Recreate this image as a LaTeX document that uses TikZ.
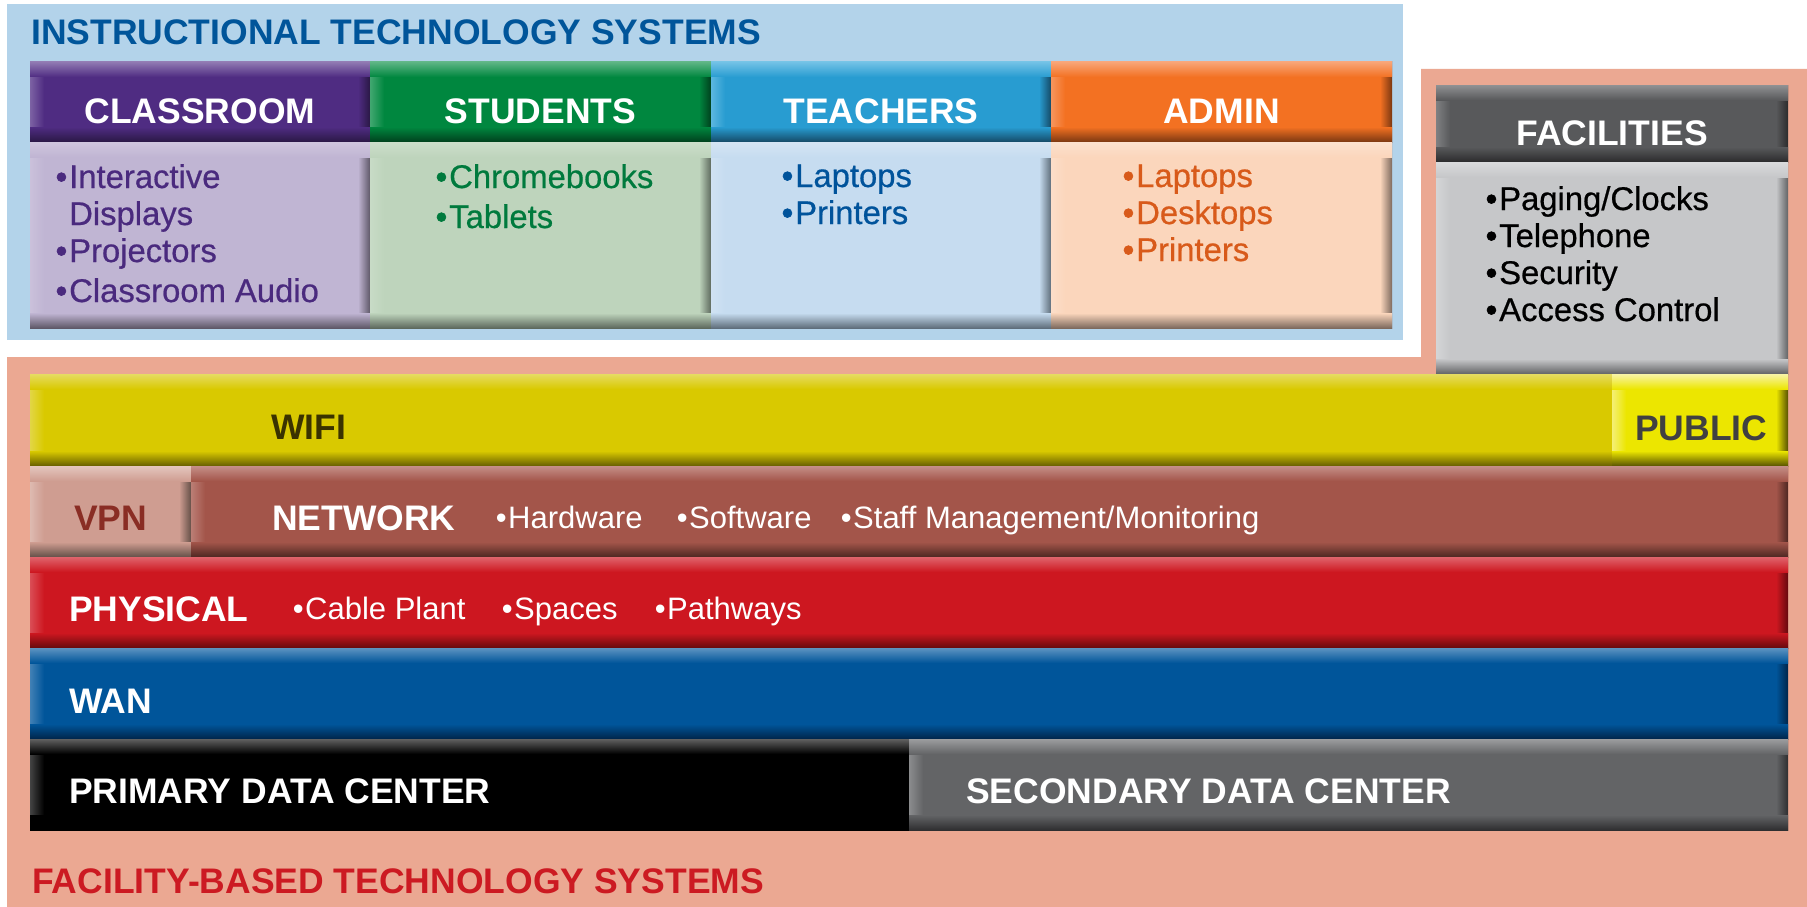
\documentclass[tikz,border=0pt]{standalone}
\usepackage{fontspec}
\setmainfont{Liberation Sans}
\newfontfamily\medfont[FakeBold=0.6]{Liberation Sans}
\newfontfamily\bulfont[FakeBold=2]{Liberation Sans}
\definecolor{bluebg}{HTML}{B3D3EA}
\definecolor{titleblue}{HTML}{00559A}
\definecolor{salmon}{HTML}{EBA892}
\definecolor{purple}{HTML}{4F2C82}\definecolor{purpleL}{HTML}{9079B2}\definecolor{purpleD}{HTML}{2A1845}
\definecolor{lav}{HTML}{C0B5D3}\definecolor{lavL}{HTML}{CFC6DE}\definecolor{lavD}{HTML}{5F5868}\definecolor{purpletxt}{HTML}{4A2A7E}
\definecolor{green}{HTML}{00873F}\definecolor{greenL}{HTML}{5DB585}\definecolor{greenD}{HTML}{00401D}
\definecolor{mint}{HTML}{BED4BC}\definecolor{mintL}{HTML}{CCDECB}\definecolor{mintD}{HTML}{5E6A5E}\definecolor{greentxt}{HTML}{007A3D}
\definecolor{tblue}{HTML}{289CD1}\definecolor{tblueL}{HTML}{72C2E6}\definecolor{tblueD}{HTML}{154A66}
\definecolor{pblue}{HTML}{C6DCF0}\definecolor{pblueL}{HTML}{D4E5F4}\definecolor{pblueD}{HTML}{5F6E7B}\definecolor{bluetxt}{HTML}{00539B}
\definecolor{orange}{HTML}{F37122}\definecolor{orangeL}{HTML}{F8A577}\definecolor{orangeD}{HTML}{7B3711}
\definecolor{peach}{HTML}{FBD6BC}\definecolor{peachL}{HTML}{FCE1CE}\definecolor{peachD}{HTML}{7E6A5E}\definecolor{orangetxt}{HTML}{D85A1A}
\definecolor{fgray}{HTML}{58595B}\definecolor{fgrayL}{HTML}{909193}\definecolor{fgrayD}{HTML}{2B2B2C}
\definecolor{lgray}{HTML}{C6C7C9}\definecolor{lgrayL}{HTML}{DADBDC}\definecolor{lgrayD}{HTML}{626365}
\definecolor{wifi}{HTML}{D9C900}\definecolor{wifiL}{HTML}{E6DC62}\definecolor{wifiD}{HTML}{665E00}\definecolor{wifitxt}{HTML}{3A3200}
\definecolor{pub}{HTML}{ECE600}\definecolor{pubL}{HTML}{F8F4A6}\definecolor{pubD}{HTML}{585200}\definecolor{pubtxt}{HTML}{404041}
\definecolor{net}{HTML}{A3554A}\definecolor{netL}{HTML}{C58F88}\definecolor{netD}{HTML}{4E2722}
\definecolor{vpn}{HTML}{CF9D91}\definecolor{vpnL}{HTML}{E4C6BE}\definecolor{vpnD}{HTML}{655048}\definecolor{vpntxt}{HTML}{8A2D24}
\definecolor{phys}{HTML}{CD1720}\definecolor{physL}{HTML}{E0646C}\definecolor{physD}{HTML}{650A0E}
\definecolor{wan}{HTML}{00559A}\definecolor{wanL}{HTML}{5D93C1}\definecolor{wanD}{HTML}{00254A}
\definecolor{pdc}{HTML}{000000}\definecolor{pdcL}{HTML}{606060}\definecolor{pdcD}{HTML}{000000}
\definecolor{sdc}{HTML}{636466}\definecolor{sdcL}{HTML}{9C9D9F}\definecolor{sdcD}{HTML}{2E2E30}
\definecolor{foottxt}{HTML}{CC1A22}
% bevelled box: x1,y1,x2,y2,base,light,dark
\newcommand\bev[7]{%
  \fill[#5] (#1,#2) rectangle (#3,#4);
  \shade[left color=#6!70!#5, right color=#5] (#1,#2) rectangle (#1+14,#4);
  \shade[left color=#5, right color=#7] (#3-12,#2) rectangle (#3,#4);
  \shade[top color=#6, bottom color=#5] (#1,#2) rectangle (#3,#2+15);
  \shade[top color=#5, bottom color=#7] (#1,#4-15) rectangle (#3,#4);
}
% bevelled bar with no dark right edge
\newcommand\bevl[7]{%
  \fill[#5] (#1,#2) rectangle (#3,#4);
  \shade[left color=#6!70!#5, right color=#5] (#1,#2) rectangle (#1+14,#4);
  \shade[top color=#6, bottom color=#5] (#1,#2) rectangle (#3,#2+15);
  \shade[top color=#5, bottom color=#7] (#1,#4-15) rectangle (#3,#4);
}
% bullet hanging left of the text, same size as the text
\newcommand\bu{\llap{{\bulfont •}\kern2pt}}
% list of items as one block: first baseline at the anchor
\newcommand\lst[1]{\begin{tabular}[t]{@{}l@{}}#1\end{tabular}}
\newcommand\bitm[5]{%
  \node[bitm,anchor=base east] (#1b) at (#3-1,#4) {•};
  \node[bitm] (#1) at (#3,#4) {#5};
}
\begin{document}
\begin{tikzpicture}[x=1pt,y=-1pt,
  lbl/.style={inner sep=0,anchor=base west,font=\fontsize{35.5}{40}\selectfont\bfseries},
  hdr/.style={inner sep=0,anchor=base,font=\fontsize{35.5}{40}\selectfont\bfseries,text=white},
  itm/.style={inner sep=0,anchor=base west,font=\fontsize{32.8}{#1}\medfont},
  bitm/.style={inner sep=0,anchor=base west,font=\fontsize{31}{36}\selectfont,text=white}]
\useasboundingbox (0,0) rectangle (1807,907);
\fill[white] (0,0) rectangle (1807,907);
% backgrounds
\fill[bluebg] (7,4) rectangle (1403,340);
\fill[salmon] (7,357) -- (1421,357) -- (1421,69) -- (1807,69) -- (1807,907) -- (7,907) -- cycle;
% instructional columns
\bev{30}{62}{370}{142}{purple}{purpleL}{purpleD}
\bev{30}{142}{370}{328}{lav}{lavL}{lavD}
\bev{370}{62}{711}{142}{green}{greenL}{greenD}
\bev{370}{142}{711}{328}{mint}{mintL}{mintD}
\bev{711}{62}{1051}{142}{tblue}{tblueL}{tblueD}
\bev{711}{142}{1051}{328}{pblue}{pblueL}{pblueD}
\bev{1051}{62}{1392}{142}{orange}{orangeL}{orangeD}
\bev{1051}{142}{1392}{328}{peach}{peachL}{peachD}
% facilities
\bev{1436}{85}{1788}{162}{fgray}{fgrayL}{fgrayD}
\bev{1436}{162}{1788}{374}{lgray}{lgrayL}{lgrayD}
% layers
\bevl{30}{374}{1612}{466}{wifi}{wifiL}{wifiD}
\bev{1612}{374}{1788}{466}{pub}{pubL}{pubD}
\bev{30}{466}{191}{557}{vpn}{vpnL}{vpnD}
\bev{191}{466}{1788}{557}{net}{netL}{netD}
\bev{30}{557}{1788}{648}{phys}{physL}{physD}
\bev{30}{648}{1788}{739}{wan}{wanL}{wanD}
\bevl{30}{739}{909}{830}{pdc}{pdcL}{pdcD}
\bev{909}{739}{1788}{830}{sdc}{sdcL}{sdcD}
% titles
\node[lbl,text=titleblue] (title) at (31,45) {INSTRUCTIONAL TECHNOLOGY SYSTEMS};
\node[lbl,text=foottxt] (footer) at (32,893) {FACILITY-BASED TECHNOLOGY SYSTEMS};
% headers
\node[hdr] (hclass) at (200,123) {CLASSROOM};
\node[hdr] (hstud) at (540.5,123) {STUDENTS};
\node[hdr] (hteach) at (881,123) {TEACHERS};
\node[hdr] (hadmin) at (1221.5,123) {ADMIN};
\node[hdr] (hfac) at (1612,145) {FACILITIES};
% column items
\node[itm=37,text=purpletxt] (classitems) at (69,188)
  {\lst{\bu Interactive\\ Displays\\ \bu Projectors\\[3pt] \bu Classroom Audio}};
\node[itm=40,text=greentxt] (studitems) at (449,188)
  {\lst{\bu Chromebooks\\ \bu Tablets}};
\node[itm=37,text=bluetxt] (teachitems) at (795,187)
  {\lst{\bu Laptops\\ \bu Printers}};
\node[itm=37,text=orangetxt] (adminitems) at (1136,187)
  {\lst{\bu Laptops\\ \bu Desktops\\ \bu Printers}};
\node[itm=37,text=black] (facitems) at (1499,210)
  {\lst{\bu Paging/Clocks\\ \bu Telephone\\ \bu Security\\ \bu Access Control}};
% layer labels
\node[lbl,text=wifitxt] (wifi) at (271,439) {WIFI};
\node[lbl,text=pubtxt] (public) at (1635,440) {PUBLIC};
\node[lbl,text=vpntxt] (vpn) at (74,530) {VPN};
\node[lbl,text=white] (network) at (272,530) {NETWORK};
\bitm{n1}{491}{508}{528}{Hardware}
\bitm{n2}{675}{689}{528}{Software}
\bitm{n3}{846}{853}{528}{Staff Management/Monitoring}
\node[lbl,text=white] (physical) at (69,621) {PHYSICAL};
\bitm{p1}{289}{305}{619}{Cable Plant}
\bitm{p2}{499}{514}{619}{Spaces}
\bitm{p3}{652}{667}{619}{Pathways}
\node[lbl,text=white] (wan) at (69,713) {WAN};
\node[lbl,text=white] (pdc) at (69,803) {PRIMARY DATA CENTER};
\node[lbl,text=white] (sdc) at (966,803) {SECONDARY DATA CENTER};
\end{tikzpicture}
\end{document}
